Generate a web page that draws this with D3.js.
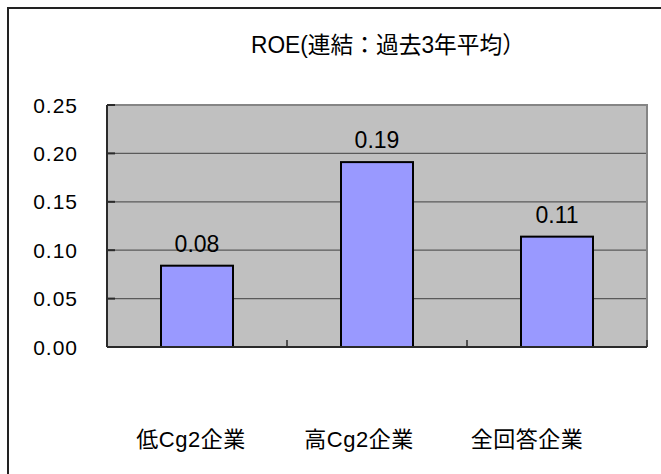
<!DOCTYPE html>
<html>
<head>
<meta charset="utf-8">
<script src="https://cdn.jsdelivr.net/npm/d3@7"></script>
<style>
  html, body { margin: 0; padding: 0; background: #fff; }
  svg { display: block; }
  text { font-family: "Liberation Sans", Arial, "Noto Sans CJK JP", sans-serif; fill: #000; }
</style>
</head>
<body>
<svg id="chart" width="661" height="474"></svg>
<script>
// ROE (consolidated, 3-year average) by company group
const title = "ROE(連結：過去3年平均）";
const categories = ["低Cg2企業", "高Cg2企業", "全回答企業"];
const values = [0.084, 0.191, 0.114];
const yTicks = [0, 0.05, 0.10, 0.15, 0.20, 0.25];

const svg = d3.select("#chart");
const W = 661, H = 474;
const plot = { left: 107, right: 647, top: 105, bottom: 347 };

const x = d3.scaleBand()
  .domain(categories)
  .range([plot.left, plot.right])
  .paddingInner(0.6)
  .paddingOuter(0.3);

const y = d3.scaleLinear()
  .domain([0, 0.25])
  .range([plot.bottom, plot.top]);

const fmt = d3.format(".2f");

// outer chart frame (runs past the visible page on right and bottom)
svg.append("rect")
  .attr("x", 8).attr("y", 8)
  .attr("width", W + 20).attr("height", H + 20)
  .attr("fill", "#fff")
  .attr("stroke", "#222").attr("stroke-width", 2);

// title
svg.append("text")
  .attr("x", 388).attr("y", 53)
  .attr("text-anchor", "middle")
  .attr("font-size", 23)
  .attr("textLength", 274)
  .attr("lengthAdjust", "spacingAndGlyphs")
  .text(title);

// plot area background
svg.append("rect")
  .attr("x", plot.left).attr("y", plot.top)
  .attr("width", plot.right - plot.left)
  .attr("height", plot.bottom - plot.top)
  .attr("fill", "#C0C0C0");

// horizontal gridlines
svg.append("g").selectAll("line")
  .data(yTicks.filter(d => d > 0 && d < 0.25))
  .join("line")
  .attr("x1", plot.left).attr("x2", plot.right)
  .attr("y1", d => y(d)).attr("y2", d => y(d))
  .attr("stroke", "#5a5a5a").attr("stroke-width", 1.3);

// plot border: top and right in grey
svg.append("path")
  .attr("d", `M${plot.left},${plot.top}H${plot.right}V${plot.bottom}`)
  .attr("fill", "none")
  .attr("stroke", "#858585").attr("stroke-width", 2);

// bars
svg.append("g").selectAll("rect")
  .data(values)
  .join("rect")
  .attr("x", (d, i) => x(categories[i]))
  .attr("y", d => y(d))
  .attr("width", x.bandwidth())
  .attr("height", d => y(0) - y(d))
  .attr("fill", "#9999FF")
  .attr("stroke", "#000").attr("stroke-width", 2);

// value labels
svg.append("g").selectAll("text")
  .data(values)
  .join("text")
  .attr("x", (d, i) => x(categories[i]) + x.bandwidth() / 2)
  .attr("y", d => y(d) - 14)
  .attr("text-anchor", "middle")
  .attr("font-size", 23)
  .text(d => fmt(d));

// y axis line and inward ticks
svg.append("line")
  .attr("x1", plot.left).attr("x2", plot.left)
  .attr("y1", plot.top).attr("y2", plot.bottom)
  .attr("stroke", "#2a2a2a").attr("stroke-width", 2);
svg.append("g").selectAll("line")
  .data(yTicks)
  .join("line")
  .attr("x1", plot.left).attr("x2", plot.left + 8)
  .attr("y1", d => y(d)).attr("y2", d => y(d))
  .attr("stroke", "#2a2a2a").attr("stroke-width", 2);

// y tick labels
svg.append("g").selectAll("text")
  .data(yTicks)
  .join("text")
  .attr("x", 78)
  .attr("y", d => y(d))
  .attr("dy", "0.36em")
  .attr("text-anchor", "end")
  .attr("font-size", 21)
  .attr("letter-spacing", 1)
  .text(d => fmt(d));

// x axis line and category separators
svg.append("line")
  .attr("x1", plot.left).attr("x2", plot.right)
  .attr("y1", plot.bottom).attr("y2", plot.bottom)
  .attr("stroke", "#2a2a2a").attr("stroke-width", 2);
const step = x.step();
svg.append("g").selectAll("line")
  .data(categories)
  .join("line")
  .attr("x1", (d, i) => plot.left + step * (i + 1))
  .attr("x2", (d, i) => plot.left + step * (i + 1))
  .attr("y1", plot.bottom).attr("y2", plot.bottom - 7)
  .attr("stroke", "#2a2a2a").attr("stroke-width", 1.5);

// category labels
svg.append("g").selectAll("text")
  .data(categories)
  .join("text")
  .attr("x", (d, i) => x(d) + x.bandwidth() / 2 - 6 - 12 * i)
  .attr("y", 447)
  .attr("text-anchor", "middle")
  .attr("font-size", 22)
  .attr("letter-spacing", 0.5)
  .text(d => d);
</script>
</body>
</html>
